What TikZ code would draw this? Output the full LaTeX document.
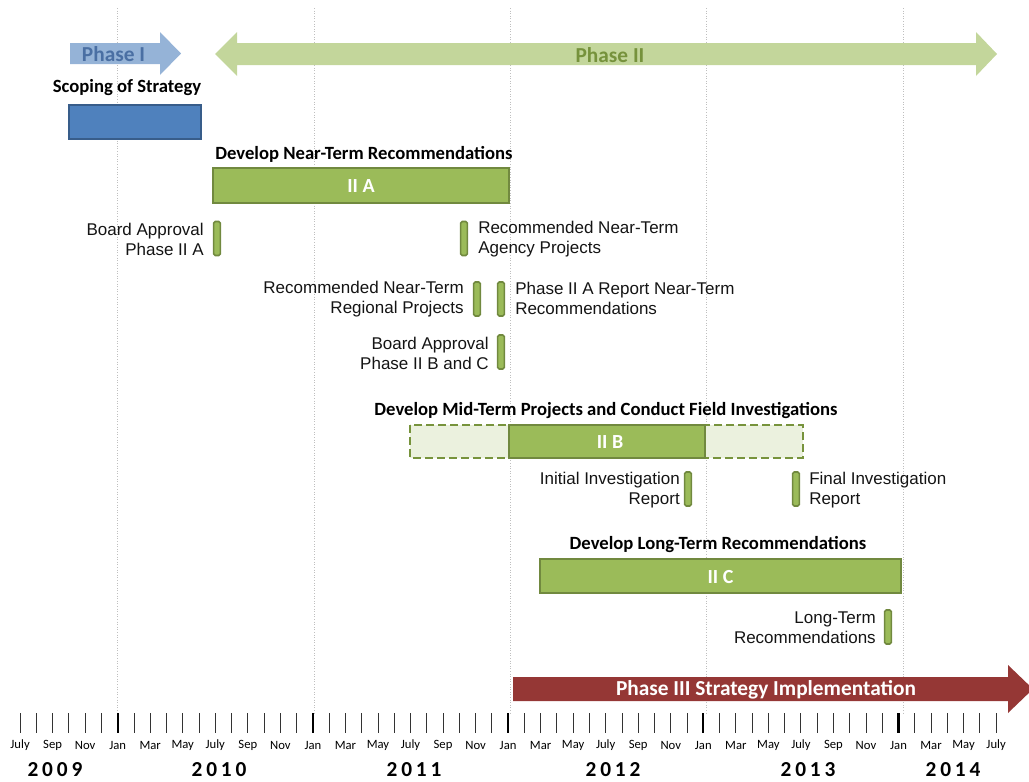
\documentclass[tikz,border=0pt]{standalone}
\usepackage{fontspec}
\setmainfont{Liberation Sans}
\newfontfamily\calibfont{Carlito}
\newfontfamily\yearfont[LetterSpace=18]{Carlito}

\definecolor{phaseone}{HTML}{95B3D7}
\definecolor{phaseonetext}{HTML}{4A6FA3}
\definecolor{phasetwo}{HTML}{C3D69B}
\definecolor{phasetwotext}{HTML}{76923C}
\definecolor{scopefill}{HTML}{4F81BD}
\definecolor{scopeline}{HTML}{385D8A}
\definecolor{greenfill}{HTML}{9BBB59}
\definecolor{greenline}{HTML}{71893F}
\definecolor{palegreen}{HTML}{EBF1DE}
\definecolor{dashline}{HTML}{77933C}
\definecolor{phasethree}{HTML}{953735}
\definecolor{gridgray}{HTML}{BFBFBF}

\begin{document}
\begin{tikzpicture}[x=0.75pt,y=-0.75pt,
  gridline/.style={gridgray, line width=0.6pt, dash pattern=on 0.75pt off 1.2pt},
  heading/.style={font=\calibfont\bfseries\fontsize{14}{16}\selectfont, inner sep=0pt},
  phaselabel/.style={font=\calibfont\bfseries\fontsize{16}{19}\selectfont, inner sep=0pt},
  bartext/.style={font=\calibfont\bfseries\fontsize{15}{18}\selectfont, text=white, inner sep=0pt},
  bar/.style={draw=greenline, fill=greenfill, line width=1.5pt},
  plannedbar/.style={draw=dashline, fill=palegreen, line width=1.5pt, dash pattern=on 6pt off 3pt},
  milestone/.style={draw=greenline, fill=greenfill, line width=1.2pt, rounded corners=1.2pt,
    minimum width=5pt, minimum height=25.5pt, inner sep=0pt},
  mlabel/.style={font=\fontsize{12.75}{15}\selectfont, inner sep=0pt, text=black!92},
  monthlabel/.style={font=\calibfont\fontsize{9.5}{10}\selectfont, inner sep=0pt},
  yearlabel/.style={font=\yearfont\bfseries\fontsize{16}{18}\selectfont, inner sep=0pt},
]
\useasboundingbox (0,0) rectangle (1029,782);

% year gridlines
\foreach \gx in {117,314,510,706,903}
  \draw[gridline] (\gx,8) -- (\gx,713);

% phase arrows
\fill[phaseone] (70,43) -- (160,43) -- (160,32) -- (181,53.5) -- (160,75) -- (160,64) -- (70,64) -- cycle;
\node[phaselabel, text=phaseonetext] (phaseI) at (113.5,54) {Phase I};

\fill[phasetwo] (215,54) -- (237,32) -- (237,43) -- (976,43) -- (976,32) -- (997,54)
  -- (976,76) -- (976,65) -- (237,65) -- (237,76) -- cycle;
\node[phaselabel, text=phasetwotext] (phaseII) at (610,55) {Phase II};

% Phase I: scoping
\node[heading] (scopehead) at (127,87.5) {Scoping of Strategy};
\draw[draw=scopeline, fill=scopefill, line width=1.5pt] (69,105) rectangle (201,139);
\coordinate (scopebar) at (135,122);

% Phase II A
\node[heading] (iiahead) at (364,154.5) {Develop Near-Term Recommendations};
\draw[bar] (213,168) rectangle (509,203);
\node[bartext] (iia) at (361,186.5) {II A};

\node[milestone] (m1) at (217,238.5) {};
\node[mlabel, anchor=east, align=right] (l1) at (204,239) {Board Approval\\Phase II A};
\node[milestone] (m2) at (464,238.5) {};
\node[mlabel, anchor=west, align=left] (l2) at (478,239) {Recommended Near-Term\\Agency Projects};
\node[milestone] (m3) at (477,299) {};
\node[mlabel, anchor=east, align=right] (l3) at (464,299) {Recommended Near-Term\\Regional Projects};
\node[milestone] (m4) at (501,299) {};
\node[mlabel, anchor=west, align=left] (l4) at (515,298) {Phase II A Report Near-Term\\Recommendations};
\node[milestone] (m5) at (501,352) {};
\node[mlabel, anchor=east, align=right] (l5) at (489,353) {Board Approval\\Phase II B and C};

% Phase II B
\node[heading] (iibhead) at (606,410.5) {Develop Mid-Term Projects and Conduct Field Investigations};
\draw[plannedbar] (410,425) rectangle (803,458);
\draw[bar] (509,425) rectangle (705,458);
\node[bartext] (iib) at (610,442) {II B};

\node[milestone] (m6) at (688,489) {};
\node[mlabel, anchor=east, align=right] (l6) at (680,490) {Initial Investigation\\Report};
\node[milestone] (m7) at (796,489) {};
\node[mlabel, anchor=west, align=left] (l7) at (809,490) {Final Investigation\\Report};

% Phase II C
\node[heading] (iichead) at (718,544.5) {Develop Long-Term Recommendations};
\draw[bar] (540,559) rectangle (901,593);
\node[bartext] (iic) at (720.5,577) {II C};

\node[milestone] (m8) at (888,627) {};
\node[mlabel, anchor=east, align=right] (l8) at (876,628) {Long-Term\\Recommendations};

% Phase III
\fill[phasethree] (513,677) -- (1008,677) -- (1008,665) -- (1033,689) -- (1008,713)
  -- (1008,701) -- (513,701) -- cycle;
\node[phaselabel, text=white] (phaseIII) at (766,689.5) {Phase III Strategy Implementation};

% month axis
\foreach \m in {0,...,60} {
  \pgfmathsetmacro\tx{20.1+16.267*\m}
  \pgfmathtruncatemacro\mm{mod(\m,12)}
  \ifnum\mm=6
    \draw[black, line width=1.6pt] (\tx,713) -- (\tx,733);
  \else
    \draw[black!80, line width=0.7pt] (\tx,713) -- (\tx,733);
  \fi
}
\foreach \k in {0,...,30} {
  \pgfmathsetmacro\tx{20.1+16.267*2*\k}
  \pgfmathtruncatemacro\idx{mod(\k,6)}
  \node[monthlabel] (month\k) at (\tx,745.5)
    {\ifcase\idx July\or Sep\or Nov\or Jan\or Mar\or May\fi};
}
\node[yearlabel] (y2009) at (55,770) {2009};
\node[yearlabel] (y2010) at (219,770) {2010};
\node[yearlabel] (y2011) at (414,770) {2011};
\node[yearlabel] (y2012) at (613,770) {2012};
\node[yearlabel] (y2013) at (808,770) {2013};
\node[yearlabel] (y2014) at (953,770) {2014};
\end{tikzpicture}
\end{document}
